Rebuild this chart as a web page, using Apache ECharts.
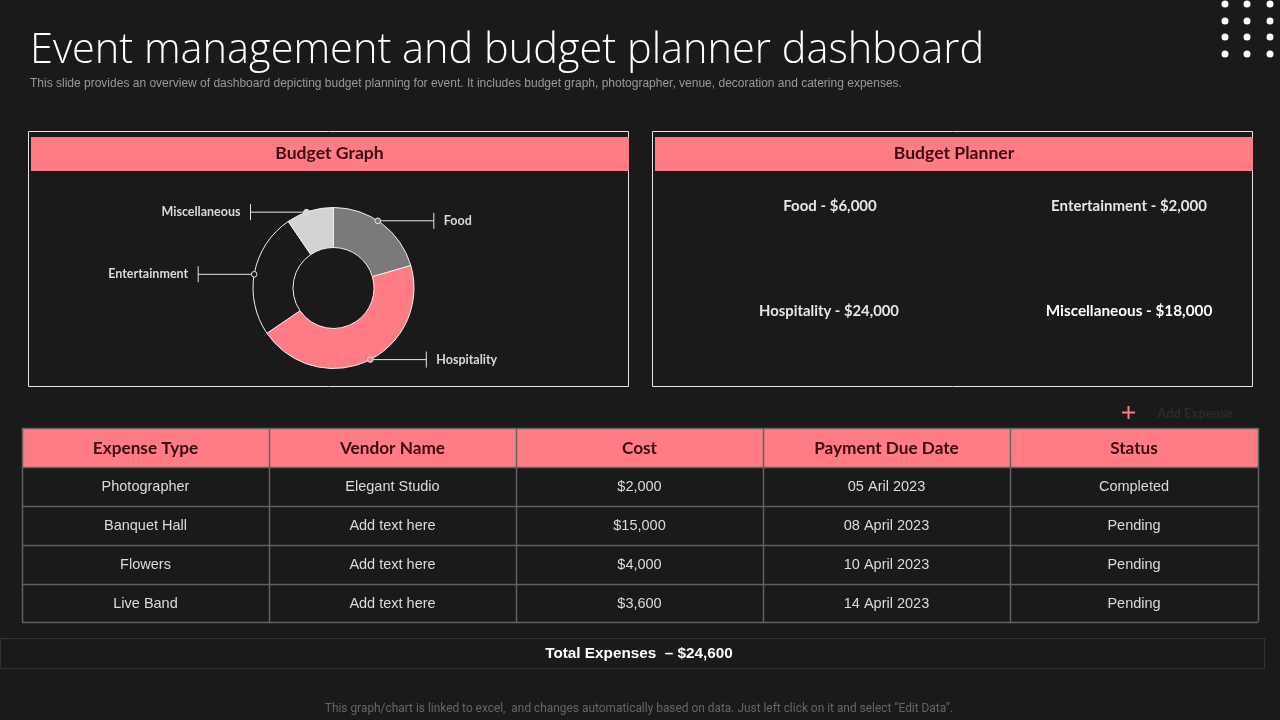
<!DOCTYPE html>
<html>
<head>
<meta charset="utf-8">
<style>
html, body { margin: 0; padding: 0; background: #1a1a1a; }
#main { width: 1280px; height: 720px; }
</style>
<script src="https://cdn.jsdelivr.net/npm/echarts@6/dist/echarts.min.js"></script>
</head>
<body>
<div id="main"></div>
<script>
var sliceNames = ['Food', 'Hospitality', 'Entertainment', 'Miscellaneous'];
var sliceValues = [20.5, 45, 25, 9.5];
var sliceColors = ['#7a7a7a', '#ff7b85', '#1a1a1a', '#d3d3d3'];

var plannerItems = [
    'Food - $6,000', 'Entertainment - $2,000',
    'Hospitality - $24,000', 'Miscellaneous - $18,000'
];

var tableHead = ['Expense Type', 'Vendor Name', 'Cost', 'Payment Due Date', 'Status'];
var tableRows = [
    ['Photographer', 'Elegant Studio', '$2,000', '05 Aril 2023', 'Completed'],
    ['Banquet Hall', 'Add text here', '$15,000', '08 April 2023', 'Pending'],
    ['Flowers', 'Add text here', '$4,000', '10 April 2023', 'Pending'],
    ['Live Band', 'Add text here', '$3,600', '14 April 2023', 'Pending']
];

var PINK = '#ff7b85';
var BG = '#1a1a1a';
var HEAD_FONT = 'Lato';
var BODY_FONT = '"Liberation Sans"';

var cx = 333.5, cy = 288, rOut = 80.5, rIn = 40.5, leaderLen = 56, labelGap = 10;
// leaders leave the ring a little before the middle of each slice, degrees
var leaderShift = [-3.5, -2, -1, -2.5];
var colX = [22, 269, 516, 763, 1010, 1258];
var rowY = [428, 467, 506, 545, 584, 622];

var g = [];

function text(x, y, str, size, color, weight, font, align) {
    g.push({
        type: 'text', x: x, y: y, z: 5,
        style: {
            text: str, fill: color,
            font: (weight || 'normal') + ' ' + size + 'px ' + (font || BODY_FONT),
            textAlign: align || 'center', textVerticalAlign: 'middle'
        }
    });
}
function rect(x, y, w, h, fill, stroke) {
    g.push({
        type: 'rect', z: 1, shape: { x: x, y: y, width: w, height: h },
        style: { fill: fill || 'none', stroke: stroke || 'none', lineWidth: 1 }
    });
}
function line(x1, y1, x2, y2, color, width) {
    g.push({
        type: 'line', z: 2, shape: { x1: x1, y1: y1, x2: x2, y2: y2 },
        style: { stroke: color, lineWidth: width || 1 }
    });
}

// where each slice's leader sits, worked out from the values
var total = sliceValues.reduce(function (a, b) { return a + b; }, 0);
var acc = 0;
var leaders = sliceValues.map(function (v, i) {
    var mid = (acc + v / 2) / total * Math.PI * 2 + leaderShift[i] * Math.PI / 180;
    acc += v;
    var dx = Math.sin(mid), dy = -Math.cos(mid);
    var px = cx + rOut * dx, py = cy + rOut * dy;
    return { px: px, py: py, side: dx < 0 ? -1 : 1, ex: px + (dx < 0 ? -leaderLen : leaderLen) };
});

// panels
rect(28.5, 131.5, 600, 255, null, '#e6e6e6');
rect(652.5, 131.5, 600, 255, null, '#e6e6e6');
rect(31, 137, 598, 34, PINK);
rect(655, 137, 598, 34, PINK);
text(329.5, 153, 'Budget Graph', 17.6, '#3a0d12', 'bold', HEAD_FONT);
text(954, 153, 'Budget Planner', 17.6, '#3a0d12', 'bold', HEAD_FONT);

// planner amounts
text(830, 206, plannerItems[0], 15, '#e6e6e6', 'bold', HEAD_FONT);
text(1129, 206, plannerItems[1], 15, '#e6e6e6', 'bold', HEAD_FONT);
text(829, 311, plannerItems[2], 14.8, '#e6e6e6', 'bold', HEAD_FONT);
text(1129, 311, plannerItems[3], 15.3, '#ffffff', 'bold', HEAD_FONT);

// dot and end tick of each pie leader
leaders.forEach(function (l, i) {
    line(l.ex, l.py - 8, l.ex, l.py + 8, '#e6e6e6');
    g.push({
        type: 'circle', z: 6, shape: { cx: l.px, cy: l.py, r: 2.8 },
        style: { fill: sliceColors[i], stroke: '#e6e6e6', lineWidth: 1 }
    });
});

// add expense hint
line(1128.5, 406, 1128.5, 419, PINK, 2);
line(1122, 412.5, 1135, 412.5, PINK, 2);
text(1195, 414, 'Add Expense', 13, '#2c2c2c', 'bold', HEAD_FONT);

// table
rect(colX[0], rowY[0], colX[5] - colX[0], rowY[1] - rowY[0], PINK);
rowY.forEach(function (y) { line(colX[0], y + 0.5, colX[5], y + 0.5, '#626262', 1.5); });
colX.forEach(function (x) { line(x + 0.5, rowY[0], x + 0.5, rowY[5], '#626262', 1.5); });
tableHead.forEach(function (h, c) {
    text((colX[c] + colX[c + 1]) / 2, (rowY[0] + rowY[1]) / 2 + 1, h, 17.2, '#3a0d12', 'bold', HEAD_FONT);
});
tableRows.forEach(function (row, r) {
    row.forEach(function (cell, c) {
        text((colX[c] + colX[c + 1]) / 2, (rowY[r + 1] + rowY[r + 2]) / 2 + 0.5, cell, 14.5, '#dcdcdc');
    });
});

// total bar
rect(0.5, 638.5, 1264, 30, null, '#333333');
text(639, 654, 'Total Expenses  \u2013 $24,600', 15.3, '#ffffff', 'bold');

// footnote
text(639, 709.5, 'This graph/chart is linked to excel,  and changes automatically based on data. Just left click on it and select \u201cEdit Data\u201d.', 11.9, '#666666', 'normal', 'Roboto');

// corner dots
[1225, 1247, 1270].forEach(function (x) {
    [4, 21, 37, 54].forEach(function (y) {
        g.push({ type: 'circle', z: 3, shape: { cx: x, cy: y, r: 3.5 }, style: { fill: '#ffffff' } });
    });
});

var myChart = echarts.init(document.getElementById('main'), null, { renderer: 'canvas' });
var option = {
    animation: false,
    backgroundColor: BG,
    title: [{
        text: 'Event management and budget planner dashboard',
        left: 30, top: 30, padding: 0,
        textStyle: { color: '#ffffff', fontFamily: 'Open Sans', fontWeight: 300, fontSize: 41.5 }
    }, {
        text: 'This slide provides an overview of dashboard depicting budget planning for event. It includes budget graph, photographer, venue, decoration and catering expenses.',
        left: 30, top: 78, padding: 0,
        textStyle: { color: '#9a9a9a', fontFamily: 'Liberation Sans', fontWeight: 'normal', fontSize: 12 }
    }],
    graphic: g,
    series: [{
        type: 'pie',
        center: [cx, cy],
        radius: [rIn, rOut],
        startAngle: 90,
        avoidLabelOverlap: false,
        silent: true,
        itemStyle: { borderColor: '#f0f0f0', borderWidth: 1 },
        label: {
            show: true, position: 'outside',
            color: '#d9d9d9', fontFamily: HEAD_FONT, fontWeight: 'bold', fontSize: 12.5
        },
        labelLine: {
            show: true, length: 0, length2: leaderLen,
            lineStyle: { color: '#e6e6e6', width: 1 }
        },
        labelLayout: function (params) {
            var l = leaders[params.dataIndex];
            return {
                x: l.ex + l.side * labelGap,
                y: l.py,
                align: l.side < 0 ? 'right' : 'left',
                verticalAlign: 'middle',
                labelLinePoints: [[l.px, l.py], [l.ex, l.py], [l.ex, l.py]]
            };
        },
        data: sliceNames.map(function (name, i) {
            return { name: name, value: sliceValues[i], itemStyle: { color: sliceColors[i] } };
        })
    }]
};
myChart.setOption(option);
</script>
</body>
</html>
